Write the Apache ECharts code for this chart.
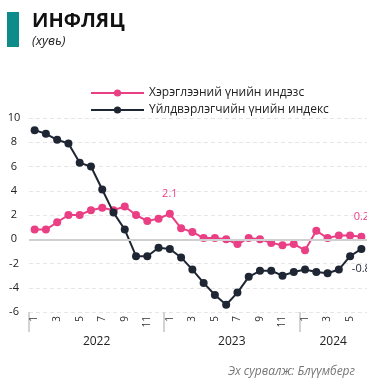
<!DOCTYPE html>
<html>
<head>
<meta charset="utf-8">
<script src="https://cdn.jsdelivr.net/npm/echarts@6/dist/echarts.min.js"></script>
<style>
  html, body { margin: 0; padding: 0; background: #fff; }
  #chart { width: 367px; height: 381px; }
</style>
</head>
<body>
<div id="chart"></div>
<script>
// Monthly categories: Jan 2022 – Jun 2024
const months = ['1','2','3','4','5','6','7','8','9','10','11','12',
                '1','2','3','4','5','6','7','8','9','10','11','12',
                '1','2','3','4','5','6'];
const years = ['2022', '2023', '2024'];
const yearStart = [0, 12, 24];
const yearMid = [6, 18, 27];

// Year-on-year change, %
const cpi = [0.8, 0.8, 1.4, 2.0, 2.0, 2.4, 2.6, 2.4, 2.7, 2.0, 1.5, 1.7,
             2.1, 0.9, 0.6, 0.1, 0.1, 0.0, -0.4, 0.1, 0.0, -0.3, -0.5, -0.4,
             -0.9, 0.7, 0.1, 0.3, 0.3, 0.2];
const ppi = [9.0, 8.7, 8.2, 7.9, 6.3, 6.0, 4.1, 2.2, 0.8, -1.4, -1.4, -0.7,
             -0.8, -1.5, -2.5, -3.6, -4.6, -5.4, -4.4, -3.1, -2.6, -2.6, -3.0, -2.7,
             -2.5, -2.7, -2.8, -2.5, -1.4, -0.8];

const seriesNames = ['Хэрэглээний үнийн индэзс', 'Үйлдвэрлэгчийн үнийн индекс'];
const cpiLabelAt = [12, 29];
const ppiLabelAt = [29];

const PINK = '#ea3f84';
const NAVY = '#1f2633';
const FONT = 'Open Sans';

function withLabels(values, idx, pos, color) {
  return values.map((v, i) => idx.includes(i)
    ? { value: v, label: { show: true, position: pos, distance: 10, color: color,
        fontSize: 11, fontFamily: FONT, formatter: p => p.value.toFixed(1) } }
    : v);
}

const chart = echarts.init(document.getElementById('chart'), null, { renderer: 'canvas' });
chart.setOption({
  animation: false,
  textStyle: { fontFamily: FONT },
  title: {
    text: 'ИНФЛЯЦ',
    subtext: '(хувь)',
    left: 27, top: 6,
    itemGap: 4,
    textStyle: { fontSize: 20, fontWeight: 'bold', color: '#111', fontFamily: FONT },
    subtextStyle: { fontSize: 13, fontStyle: 'italic', color: '#222', fontFamily: FONT }
  },
  graphic: [
    { type: 'rect', left: 7, top: 12, shape: { width: 12, height: 35 }, style: { fill: '#0e8c8a' } },
    { type: 'text', right: 12, bottom: 3,
      style: { text: 'Эх сурвалж: Блүүмберг', fill: '#777', font: 'italic 12px "Open Sans"' } }
  ],
  legend: {
    orient: 'vertical',
    left: 85, top: 82,
    itemWidth: 53, itemHeight: 9, itemGap: 5,
    textStyle: { fontSize: 12, color: '#222', fontFamily: FONT },
    data: seriesNames
  },
  grid: { left: 29, right: -4, top: 118, bottom: 69 },
  xAxis: [
    {
      type: 'category',
      data: months,
      boundaryGap: true,
      axisLine: { show: false },
      axisTick: { show: false },
      axisLabel: { interval: 1, rotate: 90, fontSize: 10, margin: 4, color: '#333' },
      splitLine: { show: false }
    },
    {
      // year row: separators at each January, labels centred on each year
      type: 'value',
      min: 0, max: 30,
      position: 'bottom',
      axisLine: { show: false },
      splitLine: { show: false },
      minorTick: { show: false },
      axisTick: { show: true, customValues: yearStart, length: 20,
                  lineStyle: { color: '#d3d3d3', width: 2 } },
      axisLabel: { customValues: yearMid, margin: 24, fontSize: 12, color: '#222',
                   formatter: v => years[yearMid.indexOf(v)] }
    }
  ],
  yAxis: {
    type: 'value',
    min: -6, max: 10, interval: 2,
    axisLine: { show: false },
    axisTick: { show: false },
    axisLabel: { fontSize: 11, color: '#222', align: 'center', margin: 15 },
    splitLine: { lineStyle: { color: '#e6e6e6', type: [4, 3], width: 1 } }
  },
  series: [
    {
      type: 'line', data: [], z: 1, silent: true,
      markLine: { symbol: 'none', silent: true, label: { show: false },
                  lineStyle: { color: '#d0d0d0', width: 2, type: 'solid' },
                  data: [{ yAxis: 0 }] }
    },
    {
      name: seriesNames[0], type: 'line',
      data: withLabels(cpi, cpiLabelAt, 'top', PINK),
      symbol: 'circle', symbolSize: 8, showAllSymbol: true,
      lineStyle: { color: PINK, width: 2 }, itemStyle: { color: PINK }, z: 3
    },
    {
      name: seriesNames[1], type: 'line',
      data: withLabels(ppi, ppiLabelAt, 'bottom', NAVY),
      symbol: 'circle', symbolSize: 8, showAllSymbol: true,
      lineStyle: { color: NAVY, width: 2 }, itemStyle: { color: NAVY }, z: 4
    }
  ]
});
</script>
</body>
</html>
